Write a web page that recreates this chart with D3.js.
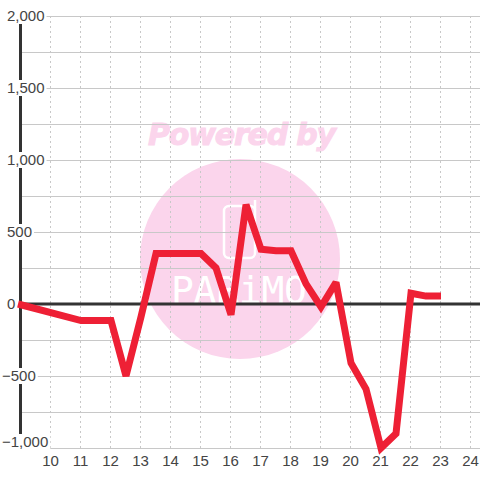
<!DOCTYPE html>
<html>
<head>
<meta charset="utf-8">
<script src="https://cdn.jsdelivr.net/npm/d3@7"></script>
<style>
html, body { margin: 0; padding: 0; background: #fff; }
svg { display: block; }
</style>
</head>
<body>
<script>
let hours = [8.9, 11, 12, 12.5, 13, 13.5, 14, 15, 15.5, 16, 16.5, 17, 17.5, 18, 18.5, 19, 19.5, 20, 20.5, 21, 21.5, 22, 22.5, 23];
let values = [0, -115, -115, -500, -90, 350, 350, 350, 250, -75, 690, 380, 370, 370, 140, -20, 150, -410, -590, -1000, -900, 75, 55, 55];
let xTicks = [10, 11, 12, 13, 14, 15, 16, 17, 18, 19, 20, 21, 22, 23, 24];
let yLabels = [2000, 1500, 1000, 500, 0, -500, -1000];
let yGrid = [2000, 1750, 1500, 1250, 1000, 750, 500, 250, -250, -500, -750, -1000];

let width = 480,
	height = 480;

let svg = d3.select("body")
			.append("svg")
			.attr("width",width)
			.attr("height",height)
			.attr("font-family","'Liberation Sans', sans-serif")
			.attr("font-size",15);

let x = d3.scaleLinear().domain([9, 24]).range([21, 471]);
let y = d3.scaleLinear().domain([-1000, 2000]).range([448, 16]);

// watermark sits under the grid
let mark = svg.append("g");

mark.append("circle")
	.attr("cx", 240)
	.attr("cy", 259)
	.attr("r", 100)
	.attr("fill", "#fbd5ec");

mark.append("rect")
	.attr("x", 224)
	.attr("y", 206)
	.attr("width", 31)
	.attr("height", 52)
	.attr("rx", 5)
	.attr("fill", "none")
	.attr("stroke", "#fff")
	.attr("stroke-width", 2.5);

mark.append("line")
	.attr("x1", 255)
	.attr("x2", 255)
	.attr("y1", 200)
	.attr("y2", 210)
	.attr("stroke", "#fff")
	.attr("stroke-width", 2.5);

mark.append("text")
	.attr("x", 171)
	.attr("y", 303)
	.attr("font-family","'DejaVu Sans Mono', monospace")
	.attr("font-size", 38)
	.attr("fill", "#fff")
	.attr("textLength", 136)
	.text("PARiMO");

mark.append("text")
	.attr("x", 148)
	.attr("y", 145)
	.attr("font-family","'DejaVu Sans', sans-serif")
	.attr("font-weight", "bold")
	.attr("font-style", "italic")
	.attr("font-size", 30)
	.attr("fill", "#fbd5ec")
	.attr("stroke", "#fbd5ec")
	.attr("stroke-width", 1)
	.attr("textLength", 188)
	.text("Powered by");

// horizontal grid
svg.append("g").selectAll("line")
	.data(yGrid)
	.enter().append("line")
	.attr("x1", 21)
	.attr("x2", width)
	.attr("y1", function(d) { return y(d) + 0.5; })
	.attr("y2", function(d) { return y(d) + 0.5; })
	.attr("stroke", "#c8c8c8")
	.attr("stroke-width", 1);

// vertical grid, bottom axis gives the tick labels
let xAxis = d3.axisBottom(x)
	.tickValues(xTicks)
	.tickSize(-432)
	.offset(-0.5)
	.tickFormat(d3.format("d"));

let gx = svg.append("g")
	.attr("transform", "translate(0,448)")
	.call(xAxis);

gx.select(".domain").remove();
gx.attr("font-family", null).attr("font-size", null);
gx.selectAll(".tick line")
	.attr("stroke", "#c8c8c8")
	.attr("stroke-dasharray", "2,3");
gx.selectAll(".tick text")
	.attr("fill", "#444")
	.attr("y", 7.5);

// thick axes
svg.append("line")
	.attr("x1", x(9) - 0.5)
	.attr("x2", x(9) - 0.5)
	.attr("y1", y(2000))
	.attr("y2", y(-1000))
	.attr("stroke", "#333")
	.attr("stroke-width", 3);

svg.append("line")
	.attr("x1", x(9))
	.attr("x2", width)
	.attr("y1", y(0))
	.attr("y2", y(0))
	.attr("stroke", "#333")
	.attr("stroke-width", 3);

// y labels have a white box behind them that cuts the axis
let yFormat = d3.format(",d");
let labels = svg.append("g").selectAll("g")
	.data(yLabels)
	.enter().append("g")
	.attr("transform", function(d) {
		// lowest label is pushed up so it stays clear of the x labels
		return "translate(7," + (y(d) + (d === -1000 ? -6 : 0)) + ")";
	});

labels.append("text")
	.attr("text-anchor", "start")
	.attr("dy", "0.35em")
	.attr("fill", "#444")
	.attr("dx", function(d) { return d < 0 ? -5 : 0; })
	.text(function(d) { return yFormat(d); });

labels.insert("rect", "text")
	.each(function() {
		let box = this.parentNode.querySelector("text").getBBox();
		d3.select(this)
			.attr("x", box.x)
			.attr("y", -8)
			.attr("width", box.width + 2)
			.attr("height", 16);
	})
	.attr("fill", "#fff");

// the series
let line = d3.line()
	.x(function(d, i) { return x(hours[i]); })
	.y(function(d) { return y(d); });

svg.append("path")
	.datum(values)
	.attr("d", line)
	.attr("fill", "none")
	.attr("stroke", "#ee2035")
	.attr("stroke-width", 7)
	.attr("stroke-linejoin", "miter")
	.attr("stroke-miterlimit", 2);
</script>
</body>
</html>
